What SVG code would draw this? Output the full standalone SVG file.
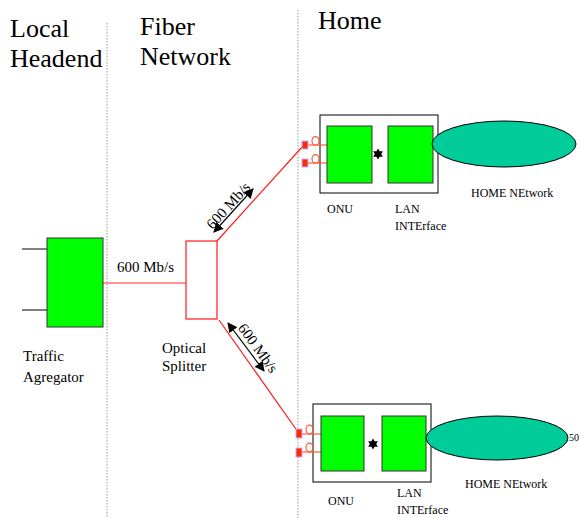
<svg xmlns="http://www.w3.org/2000/svg" width="580" height="518" viewBox="0 0 580 518" font-family="'Liberation Serif', 'Times New Roman', Times, serif">
  <style>
    text { font-family: "Liberation Serif", "Times New Roman", Times, serif; fill: #000; }
    .head { font-size: 26px; }
    .lbl { font-size: 15px; }
    .small { font-size: 12px; }
    .divider { stroke: #999; stroke-width: 1; stroke-dasharray: 1.5 1.5; fill: none; }
    .unit { fill: #00ff00; stroke: #333; stroke-width: 1; }
    .box { fill: #fff; stroke: #000; stroke-width: 1; }
    .fiber { stroke: #ff1a1a; stroke-width: 1.2; fill: none; }
    .pig { stroke: #ff5a3a; stroke-width: 1.2; fill: none; }
    .port { fill: #ff2a00; stroke: #c0b0ff; stroke-width: 1; }
    .lan { fill: #00cc99; stroke: #000; stroke-width: 1; }
    .dim { stroke: #000; stroke-width: 1.2; fill: none; marker-start: url(#ah); marker-end: url(#ah); }
  </style>
  <defs>
    <marker id="ah" viewBox="0 0 10 10" refX="9" refY="5" markerWidth="10" markerHeight="10" markerUnits="userSpaceOnUse" orient="auto-start-reverse">
      <path d="M0,0 L10,5 L0,10 z" fill="#000"/>
    </marker>
    <polygon id="star" points="0,-5.5 1.6,-2.8 4.8,-2.8 3.2,0 4.8,2.8 1.6,2.8 0,5.5 -1.6,2.8 -4.8,2.8 -3.2,0 -4.8,-2.8 -1.6,-2.8" fill="#000"/>
  </defs>

  <!-- zone dividers -->
  <g id="dividers">
    <line class="divider" x1="107" y1="23" x2="107" y2="518"/>
    <line class="divider" x1="298" y1="10" x2="298" y2="518"/>
  </g>

  <!-- zone headings -->
  <g id="headings" font-size="26">
    <text class="head" x="10" y="37">Local</text>
    <text class="head" x="10" y="67">Headend</text>
    <text class="head" x="140" y="35">Fiber</text>
    <text class="head" x="140" y="65">Network</text>
    <text class="head" x="318" y="29">Home</text>
  </g>

  <!-- fiber links -->
  <g id="connectors">
    <line x1="103" y1="283" x2="190" y2="283" stroke="#ff7070" stroke-width="1.5"/>
    <line class="fiber" x1="217" y1="241" x2="303" y2="146"/>
    <line class="fiber" x1="219" y1="320" x2="298" y2="432"/>
    <line class="dim" x1="214" y1="232" x2="253" y2="189"/>
    <line class="dim" x1="228" y1="323" x2="264" y2="371"/>
  </g>

  <!-- link rate labels -->
  <g id="rates" font-size="15">
    <text class="lbl" x="117" y="272">600 Mb/s</text>
    <text class="lbl" text-anchor="middle" transform="translate(232,209) rotate(-47.8)">600 Mb/s</text>
    <text class="lbl" text-anchor="middle" transform="translate(254,351) rotate(54)">600 Mb/s</text>
  </g>

  <!-- traffic aggregator -->
  <g id="aggregator">
    <line x1="22" y1="249" x2="47" y2="249" stroke="#000" stroke-width="1"/>
    <line x1="22" y1="310" x2="47" y2="310" stroke="#000" stroke-width="1"/>
    <rect class="unit" x="47" y="238" width="56" height="89"/>
    <text class="lbl" x="23" y="361" font-size="16">Traffic</text>
    <text class="lbl" x="23" y="382" font-size="16">Agregator</text>
  </g>

  <!-- optical splitter -->
  <g id="splitter">
    <rect x="186" y="241" width="31" height="78" fill="#fff" stroke="#ff1a1a" stroke-width="1.2"/>
    <text class="lbl" x="162" y="353">Optical</text>
    <text class="lbl" x="162" y="371">Splitter</text>
  </g>

  <!-- upper home -->
  <g id="home-upper" font-size="12">
    <rect class="box" x="320" y="115" width="118" height="78"/>
    <line class="pig" x1="308" y1="145" x2="327" y2="145"/>
    <line class="pig" x1="308" y1="163" x2="327" y2="163"/>
    <ellipse class="pig" cx="315.5" cy="141" rx="3.5" ry="4.3"/>
    <ellipse class="pig" cx="315.5" cy="159" rx="3.5" ry="4.3"/>
    <rect class="port" x="302" y="141" width="6" height="8"/>
    <rect class="port" x="302" y="159" width="6" height="8"/>
    <rect class="unit" x="327" y="126" width="45" height="57"/>
    <rect class="unit" x="388" y="126" width="45" height="57"/>
    <use href="#star" x="378" y="154"/>
    <ellipse class="lan" cx="504" cy="144" rx="72" ry="23"/>
    <text class="small" x="327" y="213">ONU</text>
    <text class="small" x="395" y="213">LAN</text>
    <text class="small" x="395" y="230">INTErface</text>
    <text class="small" x="471" y="197">HOME NEtwork</text>
  </g>

  <!-- lower home -->
  <g id="home-lower" font-size="12">
    <rect class="box" x="313" y="404" width="118" height="78"/>
    <line class="pig" x1="302" y1="434" x2="321" y2="434"/>
    <line class="pig" x1="302" y1="452" x2="321" y2="452"/>
    <ellipse class="pig" cx="309.5" cy="429.5" rx="3.5" ry="4.3"/>
    <ellipse class="pig" cx="309.5" cy="447.5" rx="3.5" ry="4.3"/>
    <rect class="port" x="296" y="429" width="6" height="9"/>
    <rect class="port" x="296" y="448" width="6" height="9"/>
    <rect class="unit" x="321" y="416" width="43" height="55"/>
    <rect class="unit" x="382" y="416" width="44" height="55"/>
    <use href="#star" x="373" y="444"/>
    <text x="564" y="441" font-size="10">150</text>
    <ellipse class="lan" cx="497" cy="438" rx="71" ry="22"/>
    <text class="small" x="328" y="505">ONU</text>
    <text class="small" x="397" y="497">LAN</text>
    <text class="small" x="397" y="514">INTErface</text>
    <text class="small" x="465" y="488">HOME NEtwork</text>
  </g>
</svg>
